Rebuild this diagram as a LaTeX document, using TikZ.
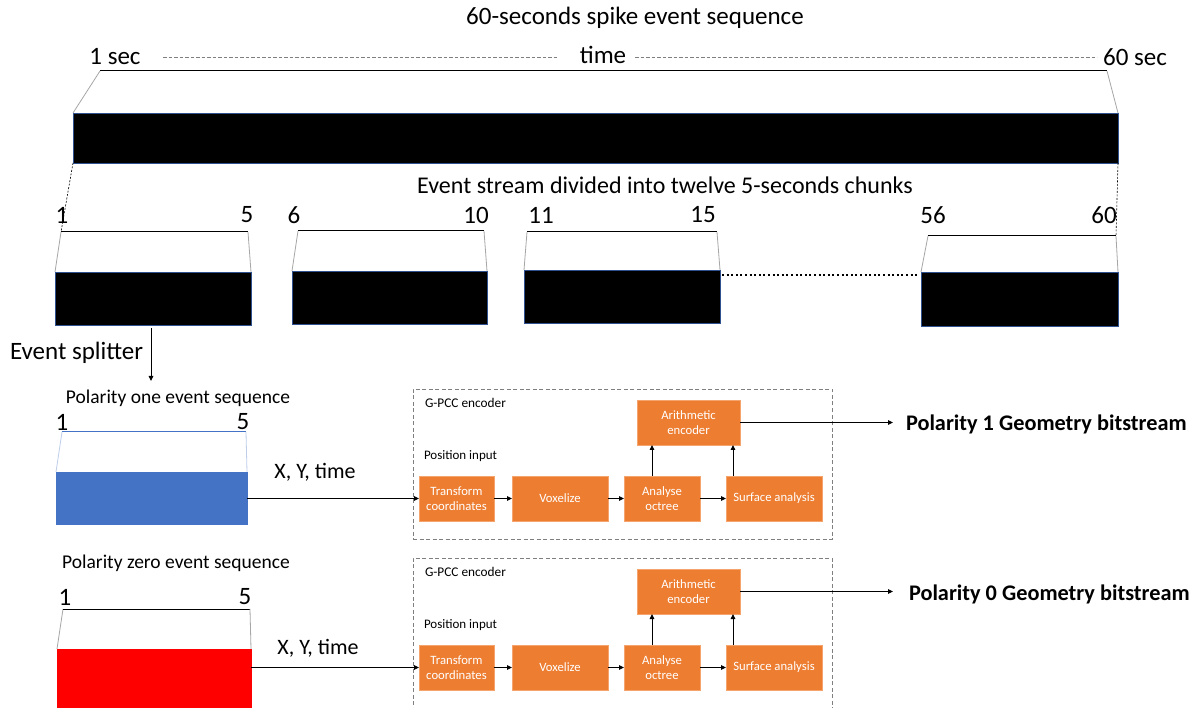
\documentclass[tikz,border=0pt]{standalone}
\usepackage{fontspec}
\setmainfont{Carlito}
\usetikzlibrary{arrows.meta}
\definecolor{gorange}{HTML}{ED7D31}
\definecolor{gorangeb}{HTML}{F4A46C}
\definecolor{bblue}{HTML}{4472C4}
\definecolor{bdark}{HTML}{2F528F}
\definecolor{tgray}{HTML}{A6A6A6}
\definecolor{dgray}{HTML}{7F7F7F}
\newcommand{\fs}[1]{\fontsize{#1}{#1}\selectfont}
\begin{document}
\begin{tikzpicture}[x=1pt,y=-1pt,
  every node/.style={inner sep=0pt, outer sep=0pt},
  rectbox/.style={anchor=north west, draw=bdark, line width=0.8pt},
  lbl/.style={font=\fs{25}},
  slant/.style={draw=tgray, line width=0.8pt},
  topline/.style={draw=black, line width=1pt},
  orbox/.style={anchor=north west, fill=gorange, draw=gorangeb, line width=0.6pt,
     text=white, font=\fontsize{12.7}{15}\selectfont, align=center},
  arr/.style={-{Triangle[length=5pt,width=4.5pt]}, line width=0.9pt},
  enc/.style={draw=dgray, dashed, dash pattern=on 4pt off 2.5pt, line width=0.8pt},
]
\clip (0,0) rectangle (1200,708);
\fill[white] (0,0) rectangle (1200,708);

% ---------- top sequence ----------
\node[font=\fs{25}] (title) at (635,18) {60-seconds spike event sequence};
\node[lbl] (s1) at (115,57) {1 sec};
\node[lbl] (tm) at (603,55) {time};
\node[lbl] (s60) at (1135,57) {60 sec};
\draw[dgray, dashed, dash pattern=on 3.5pt off 2pt, line width=0.7pt] (163,57) -- (557,57);
\draw[dgray, dashed, dash pattern=on 3.5pt off 2pt, line width=0.7pt] (635,57) -- (1097,57);

\node[rectbox, fill=black, minimum width=1045pt, minimum height=50pt] (bar) at (73,113) {};
\coordinate (tl) at (100,71);
\coordinate (tr) at (1107,71);
\draw[slant] (bar.north west) -- (tl);
\draw[topline] (tl) -- (tr);
\draw[slant] (tr) -- (bar.north east);

\node[font=\fs{24}] (divided) at (665,185) {Event stream divided into twelve 5-seconds chunks};

% ---------- chunks ----------
\node[rectbox, fill=black, minimum width=196pt, minimum height=53pt] (c1) at (55,272) {};
\node[rectbox, fill=black, minimum width=195pt, minimum height=53pt] (c2) at (292,271) {};
\node[rectbox, fill=black, minimum width=196pt, minimum height=53pt] (c3) at (524,270) {};
\node[rectbox, fill=black, minimum width=197pt, minimum height=54pt] (c4) at (921,272) {};
\coordinate (c1l) at (61,232);  \coordinate (c1r) at (248,232);
\coordinate (c2l) at (298,231); \coordinate (c2r) at (484,231);
\coordinate (c3l) at (527,232); \coordinate (c3r) at (717,232);
\coordinate (c4l) at (928,236); \coordinate (c4r) at (1116,236);
\foreach \c in {c1,c2,c3,c4}{
  \draw[slant] (\c.north west) -- (\c l);
  \draw[topline] (\c l) -- (\c r);
  \draw[slant] (\c r) -- (\c.north east);
}
\node[lbl] (n1) at (62,215) {1};
\node[lbl] (n5) at (247,215) {5};
\node[lbl] (n6) at (294,215) {6};
\node[lbl] (n10) at (476,215) {10};
\node[lbl] (n11) at (541,215) {11};
\node[lbl] (n15) at (703,215) {15};
\node[lbl] (n56) at (933,215) {56};
\node[lbl] (n60) at (1104,215) {60};
\draw[black, dashed, dash pattern=on 2pt off 1.5pt, line width=0.6pt] (bar.south west) -- (c1l);
\draw[black, dashed, dash pattern=on 2pt off 1.5pt, line width=0.6pt] (bar.south east) -- (c4r);
\draw[black, line width=2pt, dash pattern=on 2pt off 2.6pt] (722,275) -- (918,275);

% ---------- splitter ----------
\node[lbl, anchor=west] (split) at (10,353) {Event splitter};
\draw[arr] (151,328) -- (151,381);

% ---------- polarity one ----------
\node[font=\fs{19.5}] (p1) at (178,398) {Polarity one event sequence};
\node[lbl] (p1a) at (62,422) {1};
\node[lbl] (p1b) at (243,422) {5};
\node[rectbox, fill=bblue, draw=bblue, minimum width=191pt, minimum height=52pt] (blue) at (56,472) {};
\coordinate (bl) at (62,432); \coordinate (br) at (246,432);
\draw[draw=bblue!35!white, line width=0.8pt] (blue.north west) -- (bl);
\draw[draw=bblue, line width=1pt] (bl) -- (br);
\draw[draw=bblue!35!white, line width=0.8pt] (br) -- (blue.north east);
\node[font=\fs{22}] (xy1) at (315,472) {X, Y, time};

% ---------- polarity zero ----------
\node[font=\fs{19.5}] (p0) at (176,563) {Polarity zero event sequence};
\node[lbl] (p0a) at (65,597) {1};
\node[lbl] (p0b) at (245,597) {5};
\node[rectbox, fill=red, draw=red, minimum width=194pt, minimum height=65pt] (redb) at (57,649) {};
\coordinate (rl) at (63,609); \coordinate (rr) at (250,609);
\draw[slant] (redb.north west) -- (rl);
\draw[topline] (rl) -- (rr);
\draw[slant] (rr) -- (redb.north east);
\node[font=\fs{22}] (xy0) at (318,648) {X, Y, time};

% ---------- encoders ----------
\foreach \s/\dy/\ox/\oy/\txt in {a/0/906/424/Polarity 1 Geometry bitstream, b/169/909/425/Polarity 0 Geometry bitstream}{
  \begin{scope}[yshift=-\dy pt]
    \node[enc, anchor=north west, minimum width=419pt, minimum height=150pt] (g\s) at (413,389) {};
    \node[anchor=west, font=\fs{13.3}] (gt\s) at (425,403) {G-PCC encoder};
    \node[anchor=west, font=\fs{13}] (pi\s) at (424,456) {Position input};
    \node[orbox, minimum width=75pt, minimum height=45pt] (tc\s) at (419,476) {Transform\\coordinates};
    \node[orbox, minimum width=96pt, minimum height=45pt] (vx\s) at (512,476) {Voxelize};
    \node[orbox, minimum width=76pt, minimum height=45pt] (ao\s) at (624,476) {Analyse\\octree};
    \node[orbox, minimum width=96pt, minimum height=45pt] (sa\s) at (726,476) {Surface analysis};
    \node[orbox, minimum width=103pt, minimum height=45pt] (ae\s) at (637,400) {Arithmetic\\encoder};
    \node[anchor=west, font=\bfseries\fs{22.3}] (out\s) at (\ox,\oy) {\txt};
  \end{scope}
  \draw[arr] (tc\s) -- (vx\s);
  \draw[arr] (vx\s) -- (ao\s);
  \draw[arr] (ao\s) -- (sa\s);
  \draw[arr] ([xshift=-10pt]ao\s.north) -- ([xshift=-10pt]ao\s.north |- ae\s.south);
  \draw[arr] ([xshift=-41pt]sa\s.north) -- ([xshift=-41pt]sa\s.north |- ae\s.south);
  \draw[arr] (ae\s.east) -- (893,0 |- ae\s.east);
}
\draw[arr] (blue.east |- tca) -- (tca.west);
\draw[arr] (redb.east |- tcb) -- (tcb.west);
\end{tikzpicture}
\end{document}
